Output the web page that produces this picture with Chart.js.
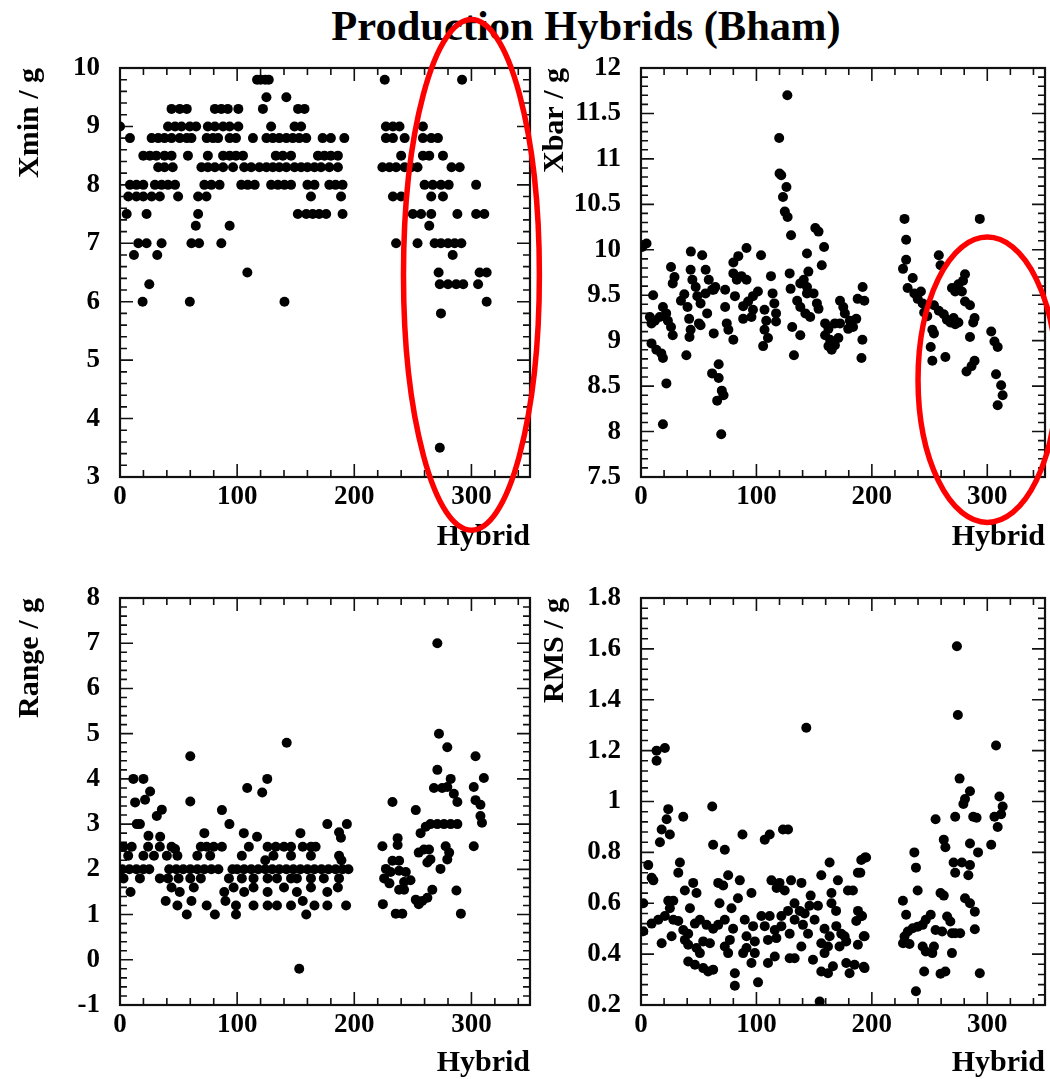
<!DOCTYPE html>
<html>
<head>
<meta charset="utf-8">
<script src="https://cdn.jsdelivr.net/npm/chart.js@4.4.1/dist/chart.umd.min.js"></script>
<style>
html,body{margin:0;padding:0;background:#fff;}
body{width:1050px;height:1079px;position:relative;overflow:hidden;}
#title{position:absolute;left:586px;top:5px;transform:translateX(-50%);white-space:nowrap;font:bold 42.5px/1 "Liberation Serif","Times New Roman",serif;color:#000;}
canvas{position:absolute;}
</style>
</head>
<body>
<div id="title">Production Hybrids (Bham)</div>
<canvas id="cXmin"></canvas>
<canvas id="cXbar"></canvas>
<canvas id="cRange"></canvas>
<canvas id="cRms"></canvas>
<script>
// ---- tick labels ----
const hybridTicks = [0, 100, 200, 300];
const xminTicks = [3, 4, 5, 6, 7, 8, 9, 10];
const xbarTicks = [7.5, 8, 8.5, 9, 9.5, 10, 10.5, 11, 11.5, 12];
const rangeTicks = [-1, 0, 1, 2, 3, 4, 5, 6, 7, 8];
const rmsTicks = [0.2, 0.4, 0.6, 0.8, 1, 1.2, 1.4, 1.6, 1.8];

// ---- data: [hybrid, value] ----
const xminPoints = [
[117,9.8],[120,9.8],[124,9.8],[127,9.8],[226,9.8],[292,9.8],
[125,9.5],[142,9.5],
[44,9.3],[51,9.3],[57,9.3],[81,9.3],[86.5,9.3],[92,9.3],[101,9.3],[122,9.3],[152,9.3],[157.5,9.3],
[0,9],[41,9],[47,9],[52.5,9],[59.6,9],[65,9],[75,9],[81,9],[88,9],[93.6,9],[101,9],[129,9],[149,9],[154.6,9],[227,9],[233,9],[238.6,9],[258.6,9],
[8.5,8.8],[27,8.8],[32.6,8.8],[38,8.8],[44,8.8],[51,8.8],[57,8.8],[61,8.8],[74,8.8],[79.4,8.8],[83.7,8.8],[93.6,8.8],[99,8.8],[113.5,8.8],[125,8.8],[130.5,8.8],[136,8.8],[142,8.8],[147.5,8.8],[153,8.8],[159,8.8],[173,8.8],[180,8.8],[191.5,8.8],[227,8.8],[233,8.8],[243,8.8],[258.6,8.8],[265.7,8.8],[271.4,8.8],
[19.9,8.5],[25.5,8.5],[31,8.5],[38,8.5],[44,8.5],[58,8.5],[75,8.5],[88,8.5],[93.6,8.5],[99,8.5],[105,8.5],[133,8.5],[139,8.5],[146,8.5],[169,8.5],[174.5,8.5],[180,8.5],[186,8.5],[240,8.5],[258.6,8.5],[264,8.5],[275.7,8.5],
[32.6,8.3],[38,8.3],[45,8.3],[69.5,8.3],[75,8.3],[81,8.3],[88,8.3],[96.5,8.3],[106,8.3],[112,8.3],[119,8.3],[125,8.3],[130.5,8.3],[136,8.3],[142,8.3],[149,8.3],[154.6,8.3],[160,8.3],[166,8.3],[171.6,8.3],[178.7,8.3],[186,8.3],[224,8.3],[230,8.3],[235.7,8.3],[243,8.3],[248.6,8.3],[254,8.3],[283,8.3],[290,8.3],
[8.5,8],[14,8],[19.9,8],[29.8,8],[35.5,8],[41,8],[47,8],[72,8],[78,8],[85,8],[103.5,8],[109,8],[115,8],[129,8],[134.8,8],[140.4,8],[146,8],[160,8],[166,8],[178.7,8],[184,8],[190,8],[260,8],[267,8],[274,8],[280.6,8],[304,8],
[7.1,7.8],[14,7.8],[19.9,7.8],[27,7.8],[34,7.8],[49.6,7.8],[66.7,7.8],[73.8,7.8],[163,7.8],[188.7,7.8],[233,7.8],[240,7.8],[265.7,7.8],[275.7,7.8],
[5.7,7.5],[22.7,7.5],[66.7,7.5],[151.8,7.5],[159,7.5],[164.5,7.5],[170,7.5],[176,7.5],[190,7.5],[250,7.5],[257,7.5],[265.7,7.5],[288,7.5],[304,7.5],[311,7.5],
[64.7,7.3],[93.6,7.3],[264,7.3],
[15.6,7],[22.7,7],[35.5,7],[61,7],[67.5,7],[86.5,7],[235.7,7],[254,7],[268.6,7],[274,7],[280,7],[285.7,7],[291.4,7],
[11.9,6.8],[31.8,6.8],[284,6.8],
[108.7,6.5],[272,6.5],[307,6.5],[313,6.5],
[25,6.3],[273,6.3],[280,6.3],[287,6.3],[293,6.3],[305.7,6.3],
[19.3,6],[59.6,6],[140.4,6],[313,6],
[274,5.8],[273,3.5]
];

const xbarPoints = [
[126.8,11.7],[119.7,11.23],[120,10.84],[121.5,10.82],[126,10.69],[123,10.58],[124.6,10.42],[127,10.36],[130,10.16],[151,10.24],[153.8,10.2],[158.6,10.03],[156.6,9.83],[143.8,9.96],[4.8,10.07],[1,10.03],
[43.2,9.98],[53,9.94],[91.4,10.02],[84.3,9.93],[80,9.86],[104,9.94],[26,9.81],[29,9.7],[27.5,9.63],[43,9.78],[44.5,9.67],[47.4,9.59],[56,9.78],[58.7,9.67],[63,9.56],[80,9.74],[83,9.67],[87,9.71],[91.4,9.67],[112.6,9.71],[128.8,9.74],[145,9.76],[141,9.67],[138,9.63],[143.8,9.59],
[10.5,9.5],[129.6,9.57],[72.9,9.56],[192,9.59],[193.5,9.44],[187.7,9.46],[101.3,9.54],[97,9.49],[92.8,9.43],[88.5,9.38],[114,9.52],[115.5,9.41],[117,9.3],[81.4,9.49],[37.5,9.51],[34.6,9.44],[40.3,9.37],[48.8,9.49],[51.6,9.41],[55.9,9.52],[61.6,9.56],[64.4,9.59],
[19,9.37],[21.8,9.3],[16.2,9.26],[12,9.22],[23.3,9.22],[26,9.15],[27.5,9.06],[7.7,9.26],[9.1,9.19],[41.7,9.24],[57.3,9.3],[72.9,9.37],[74.3,9.19],[75.7,9.12],[51.6,9.17],[63,9.08],[88.5,9.24],[95.7,9.26],[97,9.34],[107,9.34],[108.5,9.22],[107,9.12],[110,9.03],[105.8,8.94],[117,9.21],[131,9.15],[138,9.06],[132.5,8.84],
[135.3,9.44],[138,9.37],[142.4,9.3],[146.6,9.26],[143.8,9.52],[149.5,9.52],[152.4,9.41],[153.8,9.35],[159.5,9.19],[162.4,9.13],[159.5,9.06],[163.8,9.01],[162.4,8.94],[165.2,8.9],[168,9.19],[172.4,9.44],[175.2,9.37],[176.6,9.3],[180.9,9.22],[183.7,9.15],[186.5,9.24],[179.5,9.13],[172.4,9.19],[171,9.03],[168,8.95],[191.8,9.01],[191,8.81],
[9.1,8.97],[13.3,8.9],[17.6,8.86],[19,8.81],[39.3,8.84],[42,9.04],[43,9.12],[50.2,9.19],[80,9.01],[22,8.53],[67.3,8.74],[61.6,8.64],[67.3,8.59],[70,8.45],[71.5,8.4],[66,8.34],[19,8.08],[69.5,7.97],
[228.3,10.34],[293.5,10.34],[229.7,10.11],[229.7,9.89],[227,9.79],[258,9.94],[259.5,9.83],[280.7,9.73],[279,9.66],[235.4,9.69],[231,9.58],[236.8,9.52],[239.7,9.46],[244,9.41],[242.5,9.54],[245.3,9.31],[248,9.27],
[269.4,9.58],[272.2,9.54],[275,9.62],[278,9.54],[253.8,9.39],[258,9.33],[262.3,9.29],[265,9.23],[268,9.2],[272.2,9.18],[270.8,9.25],[275,9.2],[280.7,9.43],[285,9.39],[289,9.25],[287.8,9.2],
[252.4,9.12],[253.8,9.08],[285,9.04],[303.4,9.1],[306.2,8.99],[309,8.93],[251,8.93],[252.4,8.78],[263.7,8.82],[289,8.78],[286.4,8.72],[282,8.66],[307.6,8.63],[312,8.51],[313.3,8.4],[309,8.29]
];

const rangePoints = [
[142.3,4.8],[60,4.5],[60,3.5],[11.4,4.0],[20,4.0],[125.7,4.0],[108.6,3.8],[121.4,3.7],[25.7,3.72],[21.4,3.54],[12.9,3.48],[35.7,3.32],[31.4,3.18],[87,3.31],[14.3,3.0],[17,3.0],[93.4,3.0],[177,3.0],[193.7,3.0],[187,2.82],[188.6,2.7],[72,2.8],[105.7,2.8],[154,2.8],[24.3,2.74],[34.3,2.72],[117,2.72],
[3,2.5],[10,2.5],[24,2.5],[34,2.5],[44,2.5],[47,2.45],[69,2.5],[74,2.5],[80,2.5],[87,2.5],[110,2.5],[126,2.5],[133,2.5],[140,2.5],[146,2.5],[156,2.5],[163,2.5],[167,2.5],
[7,2.3],[20,2.3],[29,2.3],[40,2.3],[49,2.3],[66,2.3],[77,2.3],[104,2.3],[131,2.3],[146,2.3],[163,2.3],[187,2.3],[124,2.2],[189,2.2],
[2,2],[8,2],[14,2],[20,2],[25,2],[42,2],[48,2],[54,2],[60,2],[66,2],[72,2],[78,2],[84,2],[96,2],[100,2],[106,2],[112,2],[118,2],[124,2],[130,2],[136,2],[142,2],[148,2],[154,2],[160,2],[166,2],[172,2],[178,2],[184,2],[190,2],[195,2],
[3,1.8],[17,1.8],[34,1.8],[41,1.8],[50,1.8],[60,1.8],[69,1.8],[93,1.8],[104,1.8],[114,1.8],[126,1.8],[134,1.8],[146,1.8],[151,1.8],[163,1.8],[174,1.8],[187,1.8],
[9,1.5],[44,1.6],[51,1.5],[63,1.6],[89,1.5],[97,1.6],[106,1.5],[114,1.6],[126,1.5],[140,1.6],[151,1.5],[163,1.6],[177,1.5],[186,1.6],
[39,1.3],[49,1.2],[61,1.3],[74,1.2],[90,1.3],[99,1.2],[114,1.2],[126,1.2],[134,1.2],[146,1.2],[156,1.3],[166,1.2],[177,1.2],[193,1.2],
[57,1],[81,1],[99,1],[159,1],[153,-0.2],
[270.9,7.0],[272.3,5.0],[279.4,4.7],[303.5,4.5],[270.9,4.2],[268,3.8],[275,3.8],[282.3,4.0],[279.4,3.82],[285,3.67],[288,3.49],[302,3.82],[303.5,3.53],[307.7,3.43],[310.6,4.02],[307.7,3.18],[309,3.03],
[232.6,3.49],[252.5,3.31],[237,2.69],[237,2.54],[224,2.51],[256.6,2.8],[261,2.94],[265,3.0],[270.9,3.0],[276.6,3.0],[282.3,3.0],[288,3.0],
[255,2.37],[259.5,2.44],[263.8,2.44],[265,2.22],[262.4,2.15],[278,2.51],[281,2.37],[279.4,2.22],[302,2.51],
[232.6,2.19],[238.3,2.19],[227,2.01],[231,1.94],[238.3,1.97],[244,1.94],[225.5,1.8],[230,1.69],[242.5,1.72],[248,1.76],[273.6,2.01],
[238.3,1.55],[242.5,1.55],[252.5,1.33],[258,1.3],[262.4,1.37],[266.6,1.55],[255,1.23],[224.4,1.23],[235.4,1.02],[241,1.02],[287.2,1.53],[291,1.02]
];

const rmsPoints = [
[143.2,1.29],[13.5,1.2],[20.7,1.21],[13.5,1.16],[23.6,0.97],[22.2,0.93],[17.9,0.89],[25,0.87],[16.4,0.84],[36.6,0.94],[61.7,0.98],[62.5,0.83],[72.6,0.81],[87.9,0.87],[107.2,0.85],[111.5,0.87],[123,0.89],[127.4,0.89],
[6.3,0.75],[9.2,0.7],[10.7,0.69],[33.7,0.76],[32.3,0.72],[156.2,0.71],[163.4,0.76],[170.6,0.69],[195,0.78],[190.8,0.77],[187.9,0.72],[75.5,0.71],[71.2,0.67],[66.9,0.68],[85.6,0.69],[38,0.65],[45.2,0.68],[48.1,0.64],
[113,0.69],[120,0.68],[124.5,0.65],[130,0.69],[139,0.68],[117.5,0.66],[95.7,0.64],[84,0.62],[68,0.6],[78.4,0.58],[2,0.6],[23.6,0.61],[28,0.61],[25,0.58],[42.4,0.58],[147,0.63],[165,0.64],[165,0.6],[169,0.57],[179.3,0.65],[183.6,0.65],[188,0.57],[190.8,0.55],[186.5,0.53],
[133,0.6],[137.5,0.57],[141.8,0.56],[146,0.59],[153.3,0.59],[127.4,0.57],[121.6,0.55],
[9.2,0.52],[15,0.535],[20.7,0.55],[28,0.535],[32.3,0.53],[36.6,0.495],[40.9,0.48],[46.7,0.52],[51,0.535],[56.8,0.515],[62.5,0.5],[66.9,0.515],[72.6,0.535],[79.8,0.5],[89.9,0.535],[91.4,0.47],[97.1,0.51],[104.3,0.55],[107.2,0.51],[111.5,0.55],[115.9,0.495],[121.6,0.51],[128.8,0.48],[133.1,0.535],[140.3,0.515],[144.7,0.48],[150.4,0.535],[159,0.5],[163.4,0.47],[169.2,0.51],[173.5,0.48],[177.8,0.45],[2,0.49],[193.7,0.47],
[17.9,0.443],[26.5,0.47],[38,0.456],[40.9,0.437],[48.1,0.424],[53.9,0.45],[59.7,0.443],[72.6,0.43],[77,0.456],[91.4,0.424],[98.6,0.45],[110,0.456],[117.3,0.463],[138.9,0.43],[156.2,0.443],[162,0.43],[172,0.43],[176.4,0.47],[187.9,0.437],
[40.9,0.371],[46.7,0.358],[51,0.404],[53.9,0.345],[58.2,0.332],[62.5,0.339],[75.5,0.404],[81.3,0.325],[88.5,0.404],[95.7,0.365],[98.6,0.404],[110,0.365],[115.9,0.391],[128.8,0.384],[133.1,0.384],[149,0.378],[156.2,0.332],[162,0.325],[166.3,0.352],[177.8,0.365],[180.7,0.325],[185,0.358],[193.7,0.345],[159,0.404],
[81.3,0.276],[101.4,0.289],[154.8,0.214],
[194,0.78],[190,0.72],[191.5,0.55],[193,0.47],[193,0.35],
[273.7,1.61],[274.5,1.34],[307.6,1.22],[276,1.09],[285,1.04],[280.7,1.01],[279.3,0.99],[310.5,1.02],[313.3,0.98],[312,0.95],[306.2,0.94],[309,0.9],[272.2,0.94],[287.8,0.94],[290.7,0.936],[255.2,0.93],
[262.3,0.85],[263.7,0.82],[285,0.835],[292,0.8],[303.4,0.83],[270.8,0.76],[278,0.76],[285,0.75],[272.2,0.72],[283.6,0.71],[236.8,0.8],[238.2,0.74],[239.7,0.65],[259.5,0.64],[262.3,0.63],[280.7,0.62],[285,0.6],
[226.9,0.61],[229.7,0.555],[289.2,0.567],[289.2,0.498],[251,0.555],[246.7,0.535],[244,0.515],[239.7,0.508],[235.4,0.502],[231.2,0.489],[228.3,0.469],[227,0.443],[232.6,0.44],[244,0.43],[246.7,0.41],[252.4,0.404],[253.8,0.43],
[255.2,0.495],[260.9,0.489],[265.2,0.548],[268,0.528],[269.4,0.482],[272.2,0.482],[276.5,0.482],[269.4,0.404],[245.3,0.332],[259.5,0.323],[263.7,0.332],[293.5,0.325],[238.2,0.254]
];

// annotation ellipses (data units)
const xminEllipse = {cx: 300, cy: 6.46, rx: 58, ry: 4.37};
const xbarEllipse = {cx: 300, cy: 8.57, rx: 60, ry: 1.57};

const FONT = {family: '"Liberation Serif", "Times New Roman", serif', size: 27, weight: 'bold', lineHeight: 1.2};
const TFONT = {family: '"Liberation Serif", "Times New Roman", serif', size: 30, weight: 'bold', lineHeight: 1.2};

const frameTicks = {
  id: 'frameTicks',
  beforeDatasetsDraw(chart, args, o) {
    const ctx = chart.ctx, a = chart.chartArea;
    const xs = chart.scales.x, ys = chart.scales.y;
    ctx.save();
    ctx.strokeStyle = '#111';
    ctx.lineWidth = 1.6;
    ctx.beginPath();
    const nx = Math.floor((xs.max - xs.min) / o.xMinor + 1e-6);
    const kx = Math.round(o.xMajor / o.xMinor);
    for (let i = 0; i <= nx; i++) {
      const p = xs.getPixelForValue(xs.min + i * o.xMinor);
      const L = i % kx === 0 ? 13 : 7;
      ctx.moveTo(p, a.bottom); ctx.lineTo(p, a.bottom - L);
      ctx.moveTo(p, a.top); ctx.lineTo(p, a.top + L);
    }
    const ny = Math.floor((ys.max - ys.min) / o.yMinor + 1e-6);
    const ky = Math.round(o.yMajor / o.yMinor);
    for (let i = 0; i <= ny; i++) {
      const p = ys.getPixelForValue(ys.min + i * o.yMinor);
      const L = i % ky === 0 ? 13 : 7;
      ctx.moveTo(a.left, p); ctx.lineTo(a.left + L, p);
      ctx.moveTo(a.right, p); ctx.lineTo(a.right - L, p);
    }
    ctx.stroke();
    ctx.lineWidth = 2.2;
    ctx.strokeRect(a.left, a.top, a.right - a.left, a.bottom - a.top);
    ctx.restore();
  }
};

const ellipseMark = {
  id: 'ellipseMark',
  afterDraw(chart, args, o) {
    if (!o || !o.show) return;
    const xs = chart.scales.x, ys = chart.scales.y, ctx = chart.ctx;
    const cx = xs.getPixelForValue(o.cx), cy = ys.getPixelForValue(o.cy);
    const rx = Math.abs(xs.getPixelForValue(o.cx + o.rx) - cx);
    const ry = Math.abs(ys.getPixelForValue(o.cy + o.ry) - cy);
    ctx.save();
    ctx.strokeStyle = '#ff0000';
    ctx.lineWidth = 5.5;
    ctx.beginPath();
    ctx.ellipse(cx, cy, rx, ry, 0, 0, Math.PI * 2);
    ctx.stroke();
    ctx.restore();
  }
};

function makePanel(id, pts, yTicks, yTitle, yMinor, yMajor, g, ell) {
  const cv = document.getElementById(id);
  cv.width = g.w; cv.height = g.h;
  cv.style.left = g.left + 'px'; cv.style.top = g.top + 'px';
  cv.style.width = g.w + 'px'; cv.style.height = g.h + 'px';
  return new Chart(cv, {
    type: 'scatter',
    data: {datasets: [{
      data: pts.map(p => ({x: p[0], y: p[1]})),
      backgroundColor: '#000', borderColor: '#000', borderWidth: 0,
      pointRadius: 5, pointHoverRadius: 5
    }]},
    options: {
      responsive: false, animation: false, devicePixelRatio: 1, events: [],
      layout: {padding: {top: g.padTop, right: g.padRight, left: 0, bottom: 0}},
      plugins: {
        legend: {display: false}, tooltip: {enabled: false},
        frameTicks: {xMinor: 20, xMajor: 100, yMinor: yMinor, yMajor: yMajor},
        ellipseMark: ell ? Object.assign({show: true}, ell) : false
      },
      scales: {
        x: {
          type: 'linear', position: 'bottom', min: 0, max: 350,
          grid: {display: false, drawTicks: false}, border: {display: false},
          afterBuildTicks: s => { s.ticks = hybridTicks.map(v => ({value: v})); },
          afterFit: s => { s.height = g.xAxisH; },
          ticks: {font: FONT, color: '#000', padding: 4, maxRotation: 0, autoSkip: false, callback: v => String(v)},
          title: {display: true, text: 'Hybrid', align: 'end', color: '#000', font: TFONT, padding: {top: 0, bottom: g.xTitlePad}}
        },
        y: {
          type: 'linear', position: 'left', min: yTicks[0], max: yTicks[yTicks.length - 1],
          grid: {display: false, drawTicks: false}, border: {display: false},
          afterBuildTicks: s => { s.ticks = yTicks.map(v => ({value: v})); },
          afterFit: s => { s.width = g.yAxisW; },
          ticks: {font: FONT, color: '#000', padding: 20, autoSkip: false, callback: v => String(v)},
          title: {display: true, text: yTitle, align: 'end', color: '#000', font: TFONT, padding: {top: g.yTitlePad, bottom: 0}}
        }
      }
    },
    plugins: [frameTicks, ellipseMark]
  });
}

makePanel('cXmin', xminPoints, xminTicks, 'Xmin / g', 0.2, 1,
  {left: 0, top: 0, w: 545, h: 560, padTop: 68, padRight: 15, yAxisW: 120, xAxisH: 83, yTitlePad: 12, xTitlePad: 5}, xminEllipse);
makePanel('cXbar', xbarPoints, xbarTicks, 'Xbar / g', 0.1, 0.5,
  {left: 520, top: 0, w: 530, h: 560, padTop: 68, padRight: 2, yAxisW: 121, xAxisH: 83, yTitlePad: 17, xTitlePad: 5}, xbarEllipse);
makePanel('cRange', rangePoints, rangeTicks, 'Range / g', 0.2, 1,
  {left: 0, top: 560, w: 545, h: 525, padTop: 38, padRight: 15, yAxisW: 120, xAxisH: 80, yTitlePad: 12, xTitlePad: 4}, null);
makePanel('cRms', rmsPoints, rmsTicks, 'RMS / g', 0.04, 0.2,
  {left: 520, top: 560, w: 530, h: 525, padTop: 38, padRight: 2, yAxisW: 121, xAxisH: 80, yTitlePad: 17, xTitlePad: 4}, null);
</script>
</body>
</html>
